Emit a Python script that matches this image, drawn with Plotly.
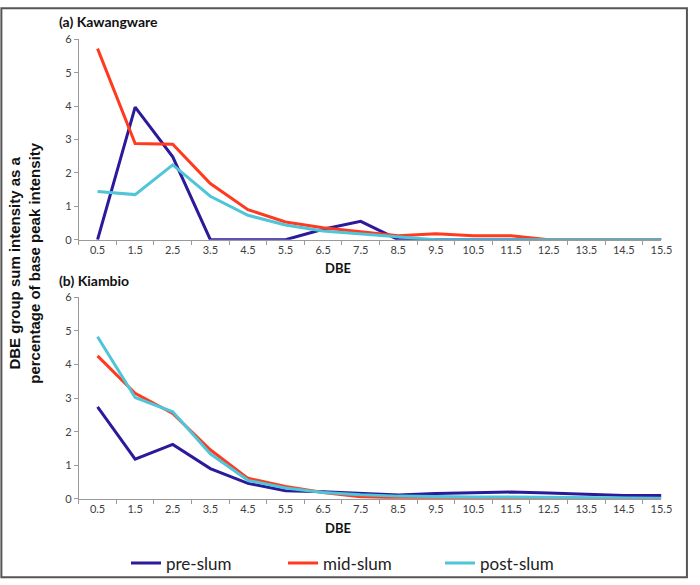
import plotly.graph_objects as go

# DBE categories
dbe = [0.5, 1.5, 2.5, 3.5, 4.5, 5.5, 6.5, 7.5, 8.5, 9.5, 10.5, 11.5, 12.5, 13.5, 14.5, 15.5]
dbe_labels = ["0.5", "1.5", "2.5", "3.5", "4.5", "5.5", "6.5", "7.5", "8.5", "9.5",
              "10.5", "11.5", "12.5", "13.5", "14.5", "15.5"]

# (a) Kawangware
kaw_pre = [0, 3.97, 2.48, 0, 0, 0, 0.31, 0.55, 0, 0, 0, 0, 0, 0, 0, 0]
kaw_mid = [5.72, 2.88, 2.86, 1.68, 0.9, 0.53, 0.36, 0.23, 0.12, 0.18, 0.12, 0.12, 0, 0, 0, 0]
kaw_post = [1.44, 1.35, 2.24, 1.3, 0.73, 0.44, 0.26, 0.17, 0.08, 0, 0, 0, 0, 0, 0, 0]

# (b) Kiambio
kia_pre = [2.74, 1.18, 1.62, 0.9, 0.46, 0.24, 0.21, 0.16, 0.11, 0.16, 0.19, 0.2, 0.17, 0.13, 0.1, 0.1]
kia_mid = [4.26, 3.14, 2.54, 1.46, 0.61, 0.37, 0.19, 0.06, 0.03, 0.02, 0.02, 0.02, 0.02, 0, 0, 0]
kia_post = [4.83, 3.02, 2.59, 1.34, 0.55, 0.32, 0.19, 0.12, 0.08, 0.06, 0.05, 0.05, 0.04, 0.02, 0.02, 0.02]

names = ["pre-slum", "mid-slum", "post-slum"]
colors = ["#2B1A9A", "#FF3A1E", "#4FC5D8"]

fig = go.Figure()
for i, (ys, name) in enumerate(zip([kaw_pre, kaw_mid, kaw_post], names)):
    fig.add_trace(go.Scatter(x=dbe, y=ys, name=name, mode="lines",
                             line=dict(color=colors[i], width=3),
                             xaxis="x", yaxis="y", showlegend=True))
for i, (ys, name) in enumerate(zip([kia_pre, kia_mid, kia_post], names)):
    fig.add_trace(go.Scatter(x=dbe, y=ys, name=name, mode="lines",
                             line=dict(color=colors[i], width=3),
                             xaxis="x2", yaxis="y2", showlegend=False))

tickfont = dict(family="Lato, sans-serif", size=11, color="#404040")
xax = dict(range=[0, 15.5], tickvals=dbe, ticktext=dbe_labels, ticks="",
           showline=True, linecolor="#9a9a9a", linewidth=1, showgrid=False,
           zeroline=False, tickfont=tickfont, fixedrange=True,
           minor=dict(ticks="outside", tick0=0, dtick=1, ticklen=4, tickcolor="#9a9a9a"))
yax = dict(range=[0, 6], dtick=1, ticks="outside", ticklen=4, tickcolor="#9a9a9a",
           showline=True, linecolor="#9a9a9a", linewidth=1, showgrid=False,
           zeroline=False, tickfont=tickfont)

fig.update_layout(
    width=700, height=585, autosize=False,
    margin=dict(l=0, r=0, t=0, b=0),
    paper_bgcolor="white", plot_bgcolor="white",
    xaxis=dict(xax, domain=[0.1143, 0.96], anchor="y"),
    yaxis=dict(yax, domain=[0.5932, 0.9436], anchor="x"),
    xaxis2=dict(xax, domain=[0.1143, 0.96], anchor="y2"),
    yaxis2=dict(yax, domain=[0.1402, 0.4923], anchor="x2"),
    legend=dict(orientation="h", x=128 / 700, y=0.027, xanchor="left", yanchor="middle",
                entrywidth=112, bgcolor="rgba(0,0,0,0)",
                font=dict(family="Lato, sans-serif", size=17, color="#222")),
    showlegend=True,
)

ann_font = dict(family="Lato, sans-serif", size=14, color="#111")
fig.add_annotation(text="<b>(a) Kawangware</b>", xref="paper", yref="paper",
                   x=58 / 700, y=1 - 15 / 585, xanchor="left", yanchor="middle",
                   showarrow=False, font=ann_font)
fig.add_annotation(text="<b>(b) Kiambio</b>", xref="paper", yref="paper",
                   x=58 / 700, y=1 - 280 / 585, xanchor="left", yanchor="middle",
                   showarrow=False, font=ann_font)
for yp in [267, 533]:
    fig.add_annotation(text="<b>DBE</b>", xref="paper", yref="paper",
                       x=343 / 700, y=1 - yp / 585, xanchor="center", yanchor="middle",
                       showarrow=False, font=dict(family="Lato, sans-serif", size=13, color="#111"))
fig.add_annotation(text="<b>DBE group sum intensity as a<br>percentage of base peak intensity</b>",
                   xref="paper", yref="paper", x=25 / 700, y=1 - 262 / 585,
                   xanchor="center", yanchor="middle", textangle=-90, showarrow=False,
                   font=dict(family="Liberation Sans, Arial, sans-serif", size=15, color="#111"))

fig.add_shape(type="rect", xref="paper", yref="paper", x0=0.002, y0=0.003, x1=0.997, y1=0.998,
              line=dict(color="#555555", width=2))

# drop the default page margin so the figure sits at the window's corner
post = ("document.body.style.margin='0';"
        "document.documentElement.style.overflow='hidden';")
fig.write_html("out.html", post_script=post,
               config={"responsive": False, "displayModeBar": False})
